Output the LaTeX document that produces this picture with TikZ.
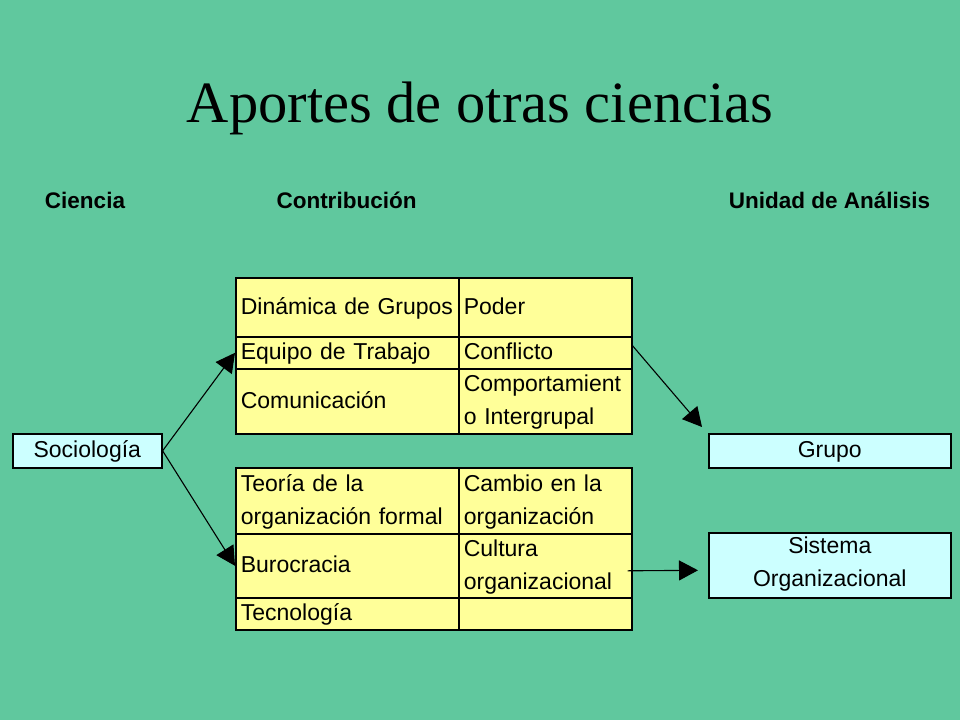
\documentclass[tikz,border=0pt]{standalone}
\usepackage{fontspec}
\setmainfont{Liberation Sans}
\newfontfamily\titlefont{Liberation Serif}
\usetikzlibrary{arrows.meta,calc}
\definecolor{bg}{RGB}{96,200,158}
\definecolor{cellyellow}{RGB}{255,255,153}
\definecolor{boxcyan}{RGB}{204,255,255}
\newcommand\cellstrut{\rule[-8pt]{0pt}{30pt}}
\begin{document}
\begin{tikzpicture}[x=1pt,y=-1pt,
  cell/.style={draw=black,line width=1.6pt,fill=cellyellow,anchor=north west,
    inner xsep=5pt,inner ysep=0pt,align=left,
    font=\fontsize{23}{33}\selectfont,
    execute at begin node=\cellstrut,execute at end node=\cellstrut},
  unitbox/.style={draw=black,line width=1.6pt,fill=boxcyan,anchor=north west,
    inner sep=0pt,align=center,font=\fontsize{23}{33}\selectfont,
    execute at begin node=\cellstrut,execute at end node=\cellstrut},
  header/.style={anchor=base,font=\fontsize{22.5}{26}\selectfont\bfseries},
  arr/.style={line width=1.1pt,-{Triangle[length=19pt,width=20pt]}}]
\fill[bg] (0,0) rectangle (960,720);
\useasboundingbox (0,0) rectangle (960,720);
% title
\node[anchor=base,font=\titlefont\fontsize{58.5}{60}\selectfont] (title) at (480,122) {Aportes de otras ciencias};
% headers
\node[header] (hciencia) at (85,208) {Ciencia};
\node[header] (hcontrib) at (346.5,208) {Contribución};
\node[header] (hunidad) at (829.5,208) {Unidad de Análisis};
% table 1
\node[cell,text width=213pt,minimum height=59pt] (c11) at (235,277) {Dinámica de Grupos};
\node[cell,text width=163pt,minimum height=59pt] (c12) at (458,277) {Poder};
\node[cell,text width=213pt,minimum height=32pt] (c21) at (235,336) {Equipo de Trabajo};
\node[cell,text width=163pt,minimum height=32pt] (c22) at (458,336) {Conflicto};
\node[cell,text width=213pt,minimum height=65pt] (c31) at (235,368) {Comunicación};
\node[cell,text width=163pt,minimum height=65pt] (c32) at (458,368) {Comportamient\\o Intergrupal};
% table 2
\node[cell,text width=213pt,minimum height=66pt] (d11) at (235,467) {Teoría de la\\organización formal};
\node[cell,text width=163pt,minimum height=66pt] (d12) at (458,467) {Cambio en la\\organización};
\node[cell,text width=213pt,minimum height=64pt] (d21) at (235,533) {Burocracia};
\node[cell,text width=163pt,minimum height=64pt] (d22) at (458,533) {Cultura\\organizacional};
\node[cell,text width=213pt,minimum height=32pt] (d31) at (235,597) {Tecnología};
\node[cell,text width=163pt,minimum height=32pt] (d32) at (458,597) {};
% unit boxes
\node[unitbox,minimum width=149pt,minimum height=34pt] (soc) at (12,433) {Sociología};
\node[unitbox,minimum width=242pt,minimum height=34pt] (grupo) at (708,433) {Grupo};
\node[unitbox,minimum width=242pt,minimum height=65pt] (sis) at (708,532) {Sistema\\Organizacional};
% arrows
\draw[arr] (soc.east) -- (c21.west);
\draw[arr] (soc.east) -- (d21.west);
\draw[arr] ($(c22.east)+(0,-7)$) -- ($(grupo.north west)+(-6,-6)$);
\draw[arr] ($(d22.east)+(-5,5)$) -- ($(sis.west)+(-10,5)$);
\end{tikzpicture}
\end{document}
